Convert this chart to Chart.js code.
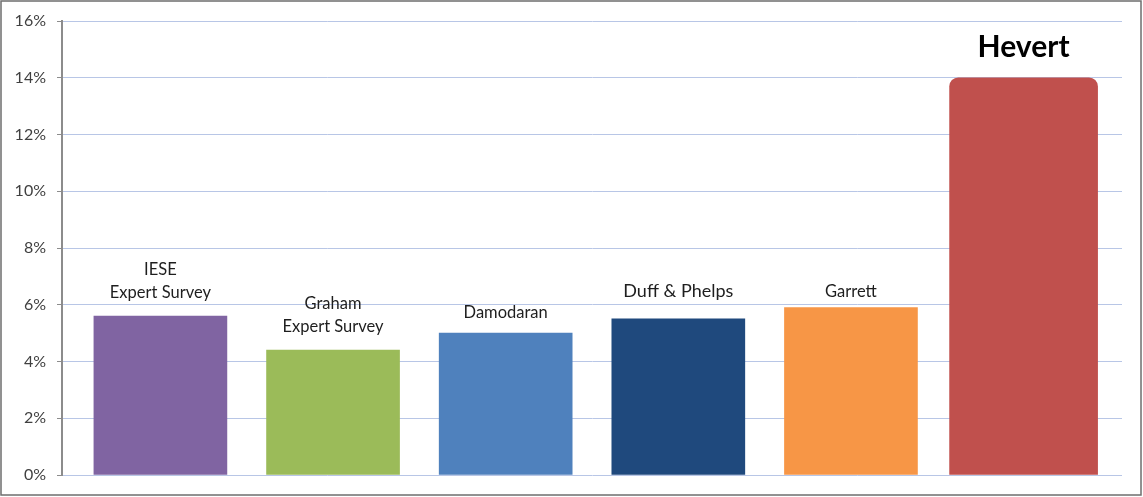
<!DOCTYPE html>
<html>
<head>
<meta charset="utf-8">
<script src="https://cdn.jsdelivr.net/npm/chart.js@4.4.1/dist/chart.umd.min.js"></script>
<style>
  html, body { margin: 0; padding: 0; background: #fff; }
  #wrap { width: 1143px; height: 497px; }
</style>
</head>
<body>
<div id="wrap"><canvas id="chart" width="1143" height="497"></canvas></div>
<script>
// data
const categories = [
  ['IESE', 'Expert Survey'],
  ['Graham', 'Expert Survey'],
  ['Damodaran'],
  ['Duff & Phelps'],
  ['Garrett'],
  ['Hevert'],
];
const premiums = [5.6, 4.4, 5.0, 5.5, 5.9, 14.0];
const yTicks = [0, 2, 4, 6, 8, 10, 12, 14, 16];

// styles
const barColors = ['#8064a2', '#9bbb59', '#4f81bd', '#1f497d', '#f79646', '#c0504d'];
const labelFonts = ['16.5px Lato', '16.5px Lato', '16.5px Lato', '18px Lato', '16.5px Lato', 'bold 30px Lato'];
const labelGaps = [23, 23, 20, 28, 16, 30];
const lineHeight = 23;

const points = premiums.map((v, i) => ({ x: i, y: v }));
const isHevert = (i) => i === premiums.length - 1;

const barLabels = {
  id: 'barLabels',
  afterDatasetsDraw(chart) {
    const ctx = chart.ctx;
    const xs = chart.scales.x;
    const ys = chart.scales.y;
    ctx.save();
    ctx.textAlign = 'center';
    ctx.textBaseline = 'middle';
    categories.forEach((lines, i) => {
      const cx = xs.getPixelForValue(i);
      const top = ys.getPixelForValue(premiums[i]);
      ctx.font = labelFonts[i];
      ctx.fillStyle = isHevert(i) ? '#000' : '#1e1e1e';
      lines.forEach((line, k) => {
        const y = top - labelGaps[i] - (lines.length - 1 - k) * lineHeight;
        ctx.fillText(line, cx, y);
      });
    });
    ctx.restore();
  }
};

const frame = {
  id: 'frame',
  afterDraw(chart) {
    const ctx = chart.ctx;
    ctx.save();
    ctx.strokeStyle = '#6e6e6e';
    ctx.lineWidth = 1.5;
    ctx.strokeRect(1, 1, 1140, 494);
    ctx.restore();
  }
};

new Chart(document.getElementById('chart'), {
  type: 'bar',
  data: {
    datasets: [{
      data: points.filter((p, i) => !isHevert(i)),
      backgroundColor: barColors.slice(0, 5),
      barThickness: 133,
      grouped: false,
    }, {
      data: points.filter((p, i) => isHevert(i)),
      backgroundColor: barColors[5],
      barThickness: 148,
      borderRadius: { topLeft: 9, topRight: 9 },
      borderSkipped: 'bottom',
      grouped: false,
    }],
  },
  options: {
    responsive: false,
    animation: false,
    layout: {
      padding: { left: 0, top: 21, right: 21, bottom: 22 }
    },
    plugins: {
      legend: { display: false },
      tooltip: { enabled: false },
    },
    scales: {
      x: {
        type: 'linear',
        min: -0.57,
        max: 5.57,
        offset: false,
        display: false,
      },
      y: {
        min: 0,
        max: 16,
        afterFit: (scale) => { scale.width = 62; },
        afterBuildTicks: (scale) => { scale.ticks = yTicks.map(v => ({ value: v })); },
        border: { display: true, color: '#8c8c8c', width: 2 },
        grid: {
          color: '#b8c6e6',
          lineWidth: 1,
          tickColor: '#8c8c8c',
          tickLength: 5,
        },
        ticks: {
          padding: 11,
          color: '#404040',
          font: { family: 'Lato', size: 16 },
          callback: (v) => v + '%',
        },
      },
    },
  },
  plugins: [barLabels, frame],
});
</script>
</body>
</html>
